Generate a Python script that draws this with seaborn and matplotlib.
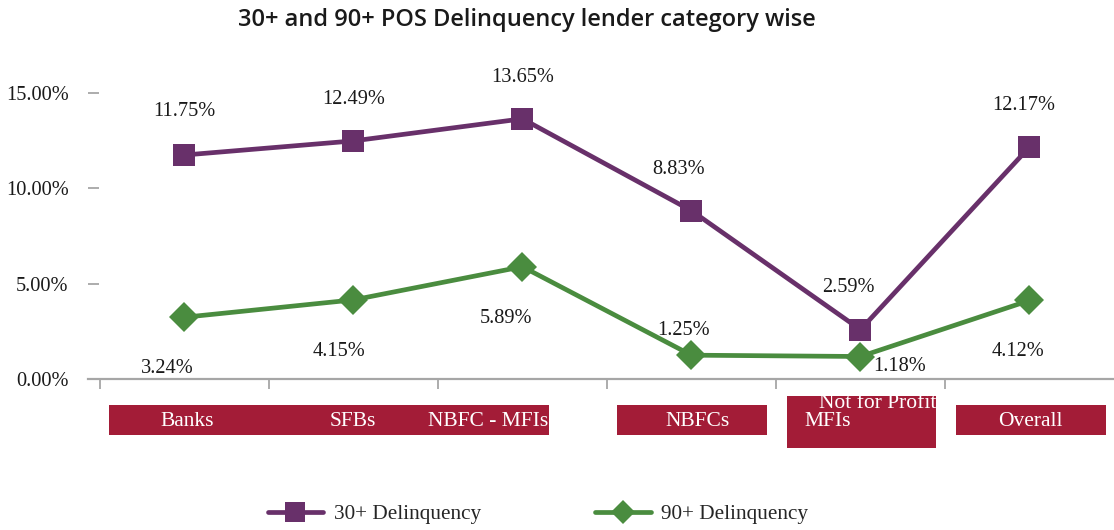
import matplotlib
matplotlib.use("Agg")
import matplotlib.pyplot as plt
import matplotlib.transforms as mtransforms
from matplotlib.patches import Rectangle
from matplotlib.lines import Line2D
import seaborn as sns
import pandas as pd

categories = ["Banks", "SFBs", "NBFC - MFIs", "NBFCs", "Not for Profit\nMFIs", "Overall"]
dpd30 = [11.75, 12.49, 13.65, 8.83, 2.59, 12.17]
dpd90 = [3.24, 4.15, 5.89, 1.25, 1.18, 4.12]
series_names = ["30+ Delinquency", "90+ Delinquency"]
yticks = [0, 5, 10, 15]

sns.set_theme(style="white")
plt.rcParams["font.family"] = ["Liberation Serif", "DejaVu Serif"]

PURPLE = "#68306A"
GREEN = "#4A8C3F"
CRIMSON = "#A31C37"
GREY = "#A6A6A6"
TXT = "#1a1a1a"
FS = 14.7

fig = plt.figure(figsize=(11.14, 5.30), dpi=100)
ax = fig.add_axes([88 / 1114, (530 - 379) / 530, (1114 - 88) / 1114, (379 - 74) / 530])

pos = list(range(len(categories)))
df = pd.DataFrame({"pos": pos * 2, "val": dpd30 + dpd90,
                   "series": [series_names[0]] * len(pos) + [series_names[1]] * len(pos)})

sns.lineplot(data=df, x="pos", y="val", hue="series", style="series",
             palette=[PURPLE, GREEN], markers=["s", "D"], dashes=False,
             linewidth=3.4, markersize=15.5, markeredgewidth=0, ax=ax, legend=False)

ax.set_xlim(-0.57, 5.5)
ax.set_ylim(0, 16)
ax.set_yticks(yticks)
ax.set_yticklabels([f"{v:.2f}%" for v in yticks], fontsize=FS, color=TXT)
ax.set_xticks([p - 0.5 for p in pos])
ax.set_xticklabels([])
ax.set_xlabel("")
ax.set_ylabel("")
for s in ["top", "right", "left"]:
    ax.spines[s].set_visible(False)
ax.spines["bottom"].set_color(GREY)
ax.spines["bottom"].set_linewidth(1.6)
ax.tick_params(axis="y", length=8, width=1.3, color=GREY, pad=14, left=True, direction="in")
ax.tick_params(axis="x", length=7.5, width=1.3, color=GREY, bottom=True, direction="out")

# data labels (offsets in points)
off30 = [(0, 31), (0, 30), (0, 30), (-9, 30), (-9, 30), (-4, 30)]
off90 = [(-12, -37), (-10, -37), (-12, -37), (-6, 18), (28, -7), (-8, -37)]
for i in pos:
    ax.annotate(f"{dpd30[i]:.2f}%", (i, dpd30[i]), xytext=off30[i], textcoords="offset points",
                ha="center", va="center", fontsize=FS, color=TXT)
    ax.annotate(f"{dpd90[i]:.2f}%", (i, dpd90[i]), xytext=off90[i], textcoords="offset points",
                ha="center", va="center", fontsize=FS, color=TXT)

# category label boxes (figure pixel coordinates for layout)
trans = mtransforms.Affine2D().scale(1 / 1114, 1 / 530) + fig.transFigure
def box(x0, x1, ytop, ybot):
    fig.patches.append(Rectangle((x0, 530 - ybot), x1 - x0, ybot - ytop,
                                 transform=trans, facecolor=CRIMSON, edgecolor="none"))
box(109, 549, 405, 435)
box(617, 767, 405, 435)
box(787, 936, 396, 448)
box(956, 1106, 405, 435)

CFS = 15.5
lab_px = [(187, 422), (353, 422), (488, 422), (698, 422), None, (1030, 422)]
for i, cat in enumerate(categories):
    if lab_px[i] is None:
        continue
    fig.text(lab_px[i][0], 530 - lab_px[i][1], cat, transform=trans, ha="center", va="center",
             color="white", fontsize=CFS)
nfp_top, nfp_bot = categories[4].split("\n")
fig.text(878, 530 - 403, nfp_top, transform=trans, ha="center", va="center",
         color="white", fontsize=CFS)
fig.text(828, 530 - 422, nfp_bot, transform=trans, ha="center", va="center",
         color="white", fontsize=CFS)

# title
fig.text(527 / 1114, 1 - 20 / 530, "30+ and 90+ POS Delinquency lender category wise",
         ha="center", va="center", fontsize=17, fontweight="semibold",
         family=["Open Sans", "DejaVu Sans"], color=TXT)

# legend
handles = [Line2D([], [], color=PURPLE, lw=3.4, marker="s", markersize=15, markeredgewidth=0),
           Line2D([], [], color=GREEN, lw=3.4, marker="D", markersize=12, markeredgewidth=0)]
fig.legend(handles, series_names, loc="center", bbox_to_anchor=(538 / 1114, 1 - 514 / 530),
           ncol=2, frameon=False, fontsize=15.3, handlelength=2.6, columnspacing=5.4,
           handletextpad=0.5)

fig.savefig("out.png", dpi=100)
